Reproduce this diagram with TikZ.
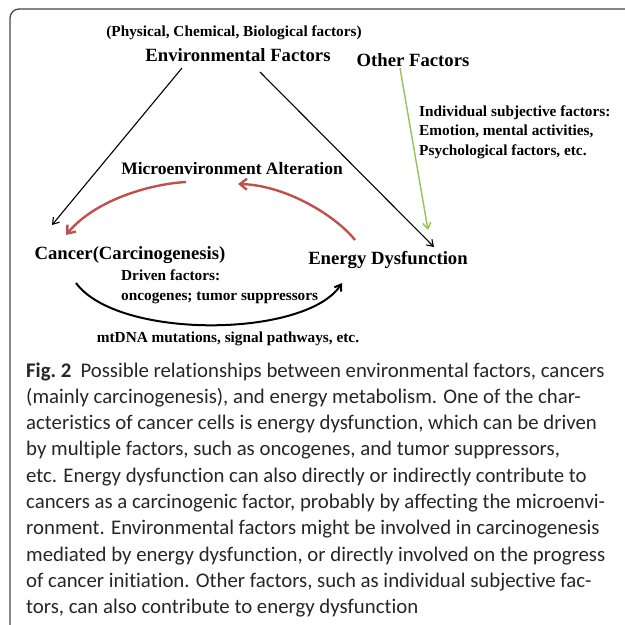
\documentclass[tikz,border=0pt]{standalone}
\usepackage{fontspec}
\setsansfont{Carlito}[Ligatures=NoCommon]
\newfontfamily\figfont{Liberation Serif}
\usetikzlibrary{arrows.meta}

\definecolor{alterred}{RGB}{192,80,77}
\definecolor{othergreen}{RGB}{150,194,84}
\definecolor{framegray}{RGB}{70,70,70}

\tikzset{
  bigtext/.style={font=\figfont\bfseries\fontsize{18.7}{21}\selectfont, inner sep=0pt},
  midtext/.style={font=\figfont\bfseries\fontsize{17.5}{20}\selectfont, inner sep=0pt},
  smalltext/.style={font=\figfont\bfseries\fontsize{15.3}{19.5}\selectfont, inner sep=0pt},
  captext/.style={font=\sffamily\fontsize{20.8}{26}\selectfont, text=black!85, inner sep=0pt, anchor=base west},
  thinarrow/.style={-{Straight Barb[length=6pt,width=8pt]}, line width=1.1pt},
  redarrow/.style={-{Straight Barb[length=7pt,width=11pt]}, line width=2.4pt, alterred}
}

\begin{document}
\begin{tikzpicture}[x=1pt,y=-1pt]
  \useasboundingbox (0,0) rectangle (625,625);
  \draw [framegray, line width=1.3pt, rounded corners=9pt] (10,626) -- (10,9) -- (626,9);

  \node [smalltext] (phys) at (234,33) { (Physical, Chemical, Biological factors) };
  \node [bigtext] (env) at (238,55) { Environmental Factors };
  \node [bigtext] (other) at (413,60) { Other Factors };
  \node [smalltext, align=left, anchor=west] (indiv) at (419,132)
    { Individual subjective factors:\\ Emotion, mental activities,\\ Psychological factors, etc. };
  \node [midtext] (micro) at (232,169) { Microenvironment Alteration };
  \node [bigtext] (cancer) at (130,255) { Cancer(Carcinogenesis) };
  \node [bigtext] (energy) at (388,260) { Energy Dysfunction };
  \node [smalltext, align=left, anchor=west] (driven) at (121,287)
    { Driven factors:\\ oncogenes; tumor suppressors };
  \node [smalltext] (mtdna) at (228,339) { mtDNA mutations, signal pathways, etc. };

  \draw [thinarrow] ([xshift=-56pt,yshift=-13pt]env.center) -- ([xshift=-78pt,yshift=30pt]cancer.center);
  \draw [thinarrow] ([xshift=22pt,yshift=-17pt]env.center) -- ([xshift=46pt,yshift=13pt]energy.center);
  \draw [thinarrow, othergreen, line width=1.4pt] ([xshift=-13pt,yshift=-8pt]other.center) -- ([xshift=40pt,yshift=30pt]energy.center);

  \draw [redarrow] ([xshift=-46pt,yshift=-13pt]micro.center) .. controls (150,184) and (95,200) .. ([xshift=-64pt,yshift=20pt]cancer.center);
  \draw [redarrow] ([xshift=-33pt,yshift=20pt]energy.center) .. controls (335,215) and (285,185) .. ([xshift=6pt,yshift=-15pt]micro.center);
  \draw [thinarrow, line width=2pt] ([xshift=-54pt,yshift=-28pt]cancer.center) .. controls (118,340) and (306,338) .. ([xshift=-46pt,yshift=-23pt]energy.center);

  % caption lines
  \foreach \capline [count=\i] in {
      {\textbf{Fig.~2}\hspace{9pt}Possible relationships between environmental factors, cancers},
      {(mainly carcinogenesis), and energy metabolism. One of the char-},
      {acteristics of cancer cells is energy dysfunction, which can be driven},
      {by multiple factors, such as oncogenes, and tumor suppressors,},
      {etc. Energy dysfunction can also directly or indirectly contribute to},
      {cancers as a carcinogenic factor, probably by affecting the microenvi-},
      {ronment. Environmental factors might be involved in carcinogenesis},
      {mediated by energy dysfunction, or directly involved on the progress},
      {of cancer initiation. Other factors, such as individual subjective fac-},
      {tors, can also contribute to energy dysfunction}}
    \node [captext] (cap\i) at (26,{377+26.3*(\i-1)}) {\capline};
\end{tikzpicture}
\end{document}
